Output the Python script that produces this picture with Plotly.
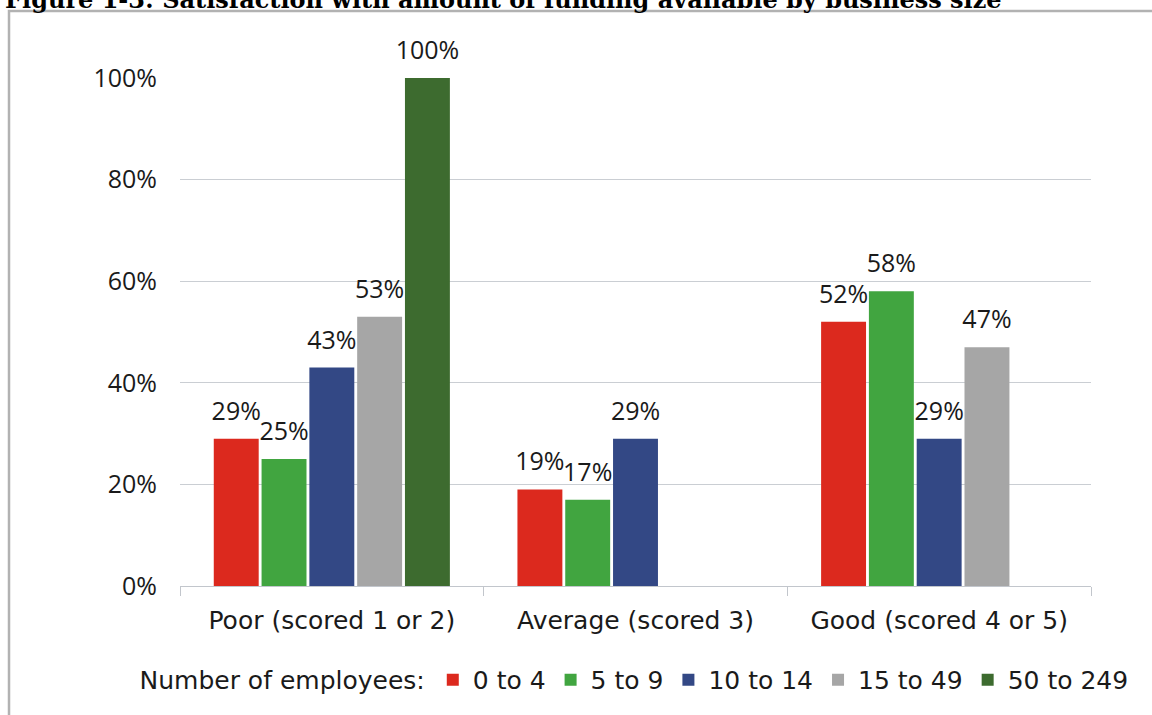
import plotly.graph_objects as go

# Satisfaction categories (x axis)
categories = ["Poor (scored 1 or 2)", "Average (scored 3)", "Good (scored 4 or 5)"]

# Business size bands (number of employees)
size_bands = ["0 to 4", "5 to 9", "10 to 14", "15 to 49", "50 to 249"]

# Share of respondents (%) per category, one list per size band
emp_0_4 = [29, 19, 52]
emp_5_9 = [25, 17, 58]
emp_10_14 = [43, 29, 29]
emp_15_49 = [53, None, 47]
emp_50_249 = [100, None, None]

band_values = [emp_0_4, emp_5_9, emp_10_14, emp_15_49, emp_50_249]
band_colors = ["#dc291e", "#41a540", "#334885", "#a6a6a6", "#3d6b2f"]

TEXT_FONT = "DejaVu Sans"
NUM_FONT = "Open Sans"
INK = "#1a1a1a"
AXIS_GREY = "#c2c6cc"

# value label: large first line, tiny blank second line to lift it off the bar
LABEL_TEMPLATE = "<span style='font-size:25px'>%{y:.0f}%</span><br>&nbsp;"

fig = go.Figure()
for name, vals, col in zip(size_bands, band_values, band_colors):
    fig.add_trace(go.Bar(
        name=name,
        x=categories,
        y=vals,
        marker=dict(color=col, line=dict(width=0)),
        texttemplate=LABEL_TEMPLATE,
        textposition="outside",
        constraintext="none",
        cliponaxis=False,
        textfont=dict(family=NUM_FONT, size=10, color=INK),
        hoverinfo="skip",
    ))

fig.update_layout(
    width=1152,
    height=715,
    autosize=False,
    margin=dict(l=180, r=61, t=78, b=129),
    paper_bgcolor="white",
    plot_bgcolor="white",
    barmode="group",
    bargap=0.213,
    bargroupgap=0.06,
    showlegend=True,
    legend=dict(
        orientation="h",
        x=0.5,
        xanchor="center",
        y=-0.185,
        yanchor="middle",
        title=dict(text="Number of employees:", side="left",
                   font=dict(family=TEXT_FONT, size=25, color=INK)),
        font=dict(family=TEXT_FONT, size=25, color=INK),
        traceorder="normal",
        bgcolor="rgba(0,0,0,0)",
    ),
    xaxis=dict(
        showline=True,
        linecolor=AXIS_GREY,
        linewidth=1,
        ticks="outside",
        tickson="boundaries",
        ticklen=9,
        tickcolor=AXIS_GREY,
        showgrid=False,
        ticklabelstandoff=12,
        tickfont=dict(family=TEXT_FONT, size=25, color=INK),
    ),
    yaxis=dict(
        range=[0, 100],
        tickmode="linear",
        tick0=0,
        dtick=20,
        ticksuffix="%",
        showgrid=True,
        gridcolor="#caced3",
        gridwidth=1,
        zeroline=False,
        showline=False,
        ticks="",
        ticklabelstandoff=22,
        tickfont=dict(family=NUM_FONT, size=25, color=INK),
    ),
    shapes=[
        dict(type="rect", xref="paper", yref="paper",
             x0=-0.1877, x1=1.3, y0=-0.5, y1=1.1319,
             line=dict(color="#b2b2b2", width=2.5),
             fillcolor="rgba(0,0,0,0)", layer="below"),
    ],
    annotations=[
        dict(text="<b>Figure 1-3: Satisfaction with amount of funding available by business size</b>",
             xref="paper", yref="paper", x=-0.1943, y=1.122,
             xanchor="left", yanchor="bottom", showarrow=False,
             font=dict(family="DejaVu Serif", size=24, color="#000000")),
    ],
)

fig.write_html("out.html")
